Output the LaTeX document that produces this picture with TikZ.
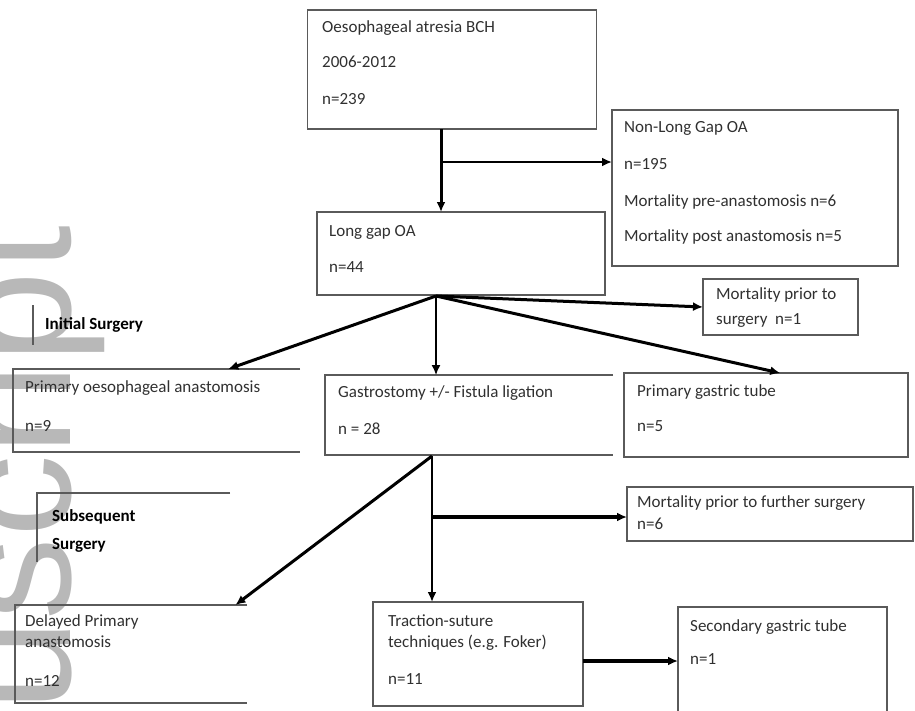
\documentclass[tikz,border=0pt]{standalone}
\usepackage{fontspec}
\setmainfont{Carlito}
\newfontfamily\wmfont{Liberation Sans}
\usetikzlibrary{arrows.meta,calc}
\definecolor{boxline}{HTML}{5A5A5A}
\definecolor{wm}{HTML}{B8B8B8}
\definecolor{txtc}{HTML}{303030}
\begin{document}
\begin{tikzpicture}[x=1pt,y=-1pt,
  box/.style={draw=boxline, line width=1.4pt, inner sep=0pt, outer sep=0pt},
  area/.style={inner sep=0pt, outer sep=0pt},
  edge/.style={draw=boxline, line width=1.4pt},
  txt/.style={font=\fontsize{17}{20}\selectfont, anchor=west, inner sep=0pt, text height=12pt, text depth=4pt, text=txtc},
  head/.style={txt, font=\bfseries\fontsize{17}{20}\selectfont, text=black},
  arr/.style={draw=black, -{Latex[length=10pt,width=9pt]}},
]
\useasboundingbox (0,0) rectangle (915,710);
\clip (0,0) rectangle (915,710);
% watermark
\node[rotate=90, anchor=base west, inner sep=0pt, text=wm, font=\wmfont\fontsize{165}{165}\selectfont] (wmark) at (70,712) {uscript};

% boxes
\node[box, minimum width=289pt, minimum height=119pt] (top) at (452,69.5) {};
\node[box, minimum width=286pt, minimum height=156pt] (nonlong) at (755,188) {};
\node[box, minimum width=288pt, minimum height=83pt] (longgap) at (461,253.5) {};
\node[box, minimum width=155pt, minimum height=56pt] (mortA) at (780.5,307) {};
\node[area, minimum width=287pt, minimum height=83pt] (primana) at (156.5,410.5) {};
\draw[edge] (primana.north east) -- (primana.north west) -- (primana.south west) -- (primana.south east);
\node[area, minimum width=288pt, minimum height=80pt] (gas) at (469,415) {};
\draw[edge] (gas.north east) -- (gas.north west) -- (gas.south west) -- (gas.south east);
\node[box, minimum width=284pt, minimum height=84pt] (pgt) at (766,415) {};
\node[area, minimum width=193pt, minimum height=69pt] (subs) at (133.5,527.5) {};
\draw[edge] (subs.north east) -- (subs.north west) -- (subs.south west);
\coordinate (initTop) at (33,305);
\coordinate (initBot) at (33,345);
\draw[edge] (initTop) -- (initBot);
\node[area, minimum width=232pt, minimum height=98pt] (delayed) at (131,654) {};
\draw[edge] (delayed.north east) -- (delayed.north west) -- (delayed.south west) -- (delayed.south east);
\node[box, minimum width=210pt, minimum height=104pt] (trac) at (478,654) {};
\node[box, minimum width=286pt, minimum height=54pt] (mortF) at (770,514) {};
\node[box, minimum width=209pt, minimum height=113pt] (sec) at (782.5,663.5) {};

% texts
\node[txt] (t1a) at (322,28) {Oesophageal atresia BCH};
\node[txt] (t1b) at (322,63) {2006-2012};
\node[txt] (t1c) at (322,100) {n=239};
\node[txt] (t2a) at (624,128) {Non-Long Gap OA};
\node[txt] (t2b) at (624,165) {n=195};
\node[txt] (t2c) at (624,202) {Mortality pre-anastomosis n=6};
\node[txt] (t2d) at (624,237) {Mortality post anastomosis n=5};
\node[txt] (t3a) at (329,232) {Long gap OA};
\node[txt] (t3b) at (329,268) {n=44};
\node[txt] (t4a) at (716,295) {Mortality prior to};
\node[txt] (t4b) at (716,320) {surgery~~n=1};
\node[head] (t5) at (45,325) {Initial Surgery};
\node[txt] (t6a) at (25,388) {Primary oesophageal anastomosis};
\node[txt] (t6b) at (25,427) {n=9};
\node[txt] (t7a) at (338,393) {Gastrostomy +/- Fistula ligation};
\node[txt] (t7b) at (338,430) {n = 28};
\node[txt] (t8a) at (637,392) {Primary gastric tube};
\node[txt] (t8b) at (637,427) {n=5};
\node[head] (t9a) at (52,517) {Subsequent};
\node[head] (t9b) at (52,545) {Surgery};
\node[txt] (t10a) at (25,622) {Delayed Primary};
\node[txt] (t10b) at (25,643) {anastomosis};
\node[txt] (t10c) at (25,682) {n=12};
\node[txt] (t11a) at (388,622) {Traction-suture};
\node[txt] (t11b) at (388,643) {techniques (e.g. Foker)};
\node[txt] (t11c) at (388,680) {n=11};
\node[txt] (t12a) at (637,503) {Mortality prior to further surgery};
\node[txt] (t12b) at (637,525) {n=6};
\node[txt] (t13a) at (690,627) {Secondary gastric tube};
\node[txt] (t13b) at (690,660) {n=1};

% connectors
\coordinate (tsplit) at (441,162);
\draw[arr, line width=3pt] (top.south -| tsplit) -- (longgap.north -| tsplit);
\draw[arr, line width=2pt] (tsplit) -- (nonlong.west |- tsplit);
\coordinate (lgb) at (436,296);
\draw[arr, line width=1.5pt] (lgb) -- (gas.north -| lgb);
\draw[arr, line width=3pt] (lgb) -- ($(primana.north west)!0.75!(primana.north east)$);
\draw[arr, line width=3pt] (lgb) -- ($(pgt.north west)!0.55!(pgt.north east)$);
\draw[arr, line width=3pt] (lgb) -- (mortA.west);
\coordinate (gb) at (432,456);
\coordinate (gsplit) at (432,517);
\draw[arr, line width=2.5pt] (gb) -- (trac.north -| gb);
\draw[arr, line width=3.5pt] (gsplit) -- (mortF.west |- gsplit);
\draw[arr, line width=3pt] (gb) -- ($(delayed.north west)!0.95!(delayed.north east)$);
\draw[arr, line width=4pt] ([yshift=-7pt]trac.east) -- ([yshift=-7pt]trac.east -| sec.west);
\end{tikzpicture}
\end{document}
